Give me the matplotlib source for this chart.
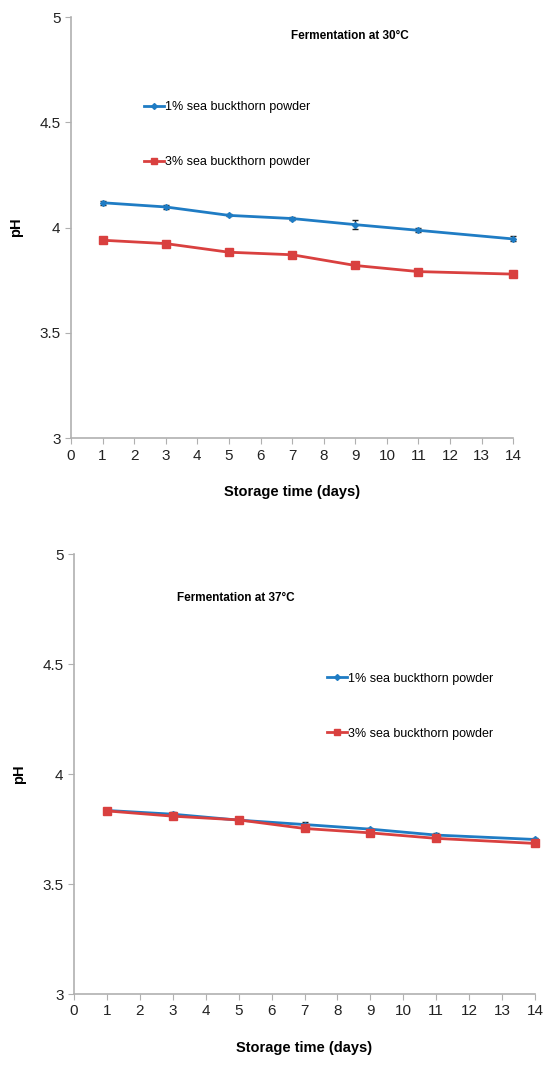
import matplotlib.pyplot as plt
from matplotlib.lines import Line2D
import numpy as np

plt.rcParams['font.family'] = ['Liberation Sans', 'DejaVu Sans']

days = [1, 3, 5, 7, 9, 11, 14]

# pH during storage, fermentation at 30 °C
ph30_1 = [4.118, 4.098, 4.058, 4.043, 4.014, 3.987, 3.946]
ph30_3 = [3.940, 3.924, 3.883, 3.871, 3.820, 3.791, 3.779]
err30_1 = [0.010, 0.008, 0.005, 0.005, 0.020, 0.010, 0.012]
err30_3 = [0.008, 0.006, 0.008, 0.008, 0.006, 0.005, 0.012]

# pH during storage, fermentation at 37 °C
ph37_1 = [3.835, 3.818, 3.791, 3.771, 3.750, 3.723, 3.703]
ph37_3 = [3.833, 3.809, 3.792, 3.753, 3.733, 3.708, 3.685]
err37_1 = [0.005, 0.010, 0.006, 0.010, 0.006, 0.008, 0.008]
err37_3 = [0.005, 0.008, 0.006, 0.008, 0.008, 0.006, 0.010]

labels = ["1% sea buckthorn powder", "3% sea buckthorn powder"]
blue = "#1f7cc4"
red = "#d9403f"
spine_col = "#b0b0b0"

fig = plt.figure(figsize=(5.46, 10.66), dpi=100)
ax1 = fig.add_axes([0.130, 0.589, 0.810, 0.395])
ax2 = fig.add_axes([0.1355, 0.0675, 0.8445, 0.4125])

handles = [
    Line2D([], [], color=blue, marker='D', markersize=3, lw=2),
    Line2D([], [], color=red, marker='s', markersize=5, lw=2),
]


def draw_panel(ax, y1, e1, y3, e3, title, title_xy, leg_anchor):
    ax.errorbar(days, y1, yerr=e1, color=blue, marker='D', markersize=3,
                lw=2, ecolor='#222222', elinewidth=1, capsize=2, clip_on=False)
    ax.errorbar(days, y3, yerr=e3, color=red, marker='s', markersize=6,
                lw=2, ecolor='#222222', elinewidth=1, capsize=2, clip_on=False)
    ax.set_xlim(0, 14)
    ax.set_ylim(3, 5)
    ax.set_xticks(np.arange(0, 15, 1))
    ax.set_yticks([3, 3.5, 4, 4.5, 5])
    ax.set_yticklabels(["3", "3.5", "4", "4.5", "5"])
    for s in ["top", "right"]:
        ax.spines[s].set_visible(False)
    for s in ["left", "bottom"]:
        ax.spines[s].set_color(spine_col)
        ax.spines[s].set_linewidth(1.2)
    ax.tick_params(direction='out', length=4, color=spine_col,
                   labelsize=11, labelcolor='#222222')
    ax.set_xlabel("Storage time (days)", fontsize=10.5, fontweight='bold',
                  labelpad=16)
    ax.set_ylabel("pH", fontsize=10.5, fontweight='bold', labelpad=12)
    ax.text(*title_xy, title, transform=ax.transAxes, fontsize=8.5,
            fontweight='bold', ha='center', va='center')
    ax.legend(handles, labels, loc='upper left', bbox_to_anchor=leg_anchor,
              frameon=False, fontsize=9, handlelength=1.6, handletextpad=0.1,
              labelspacing=3.45, borderpad=0)


draw_panel(ax1, ph30_1, err30_1, ph30_3, err30_3, "Fermentation at 30\u00b0C",
           (0.63, 0.955), (0.15, 0.815))
draw_panel(ax2, ph37_1, err37_1, ph37_3, err37_3, "Fermentation at 37\u00b0C",
           (0.35, 0.9), (0.535, 0.745))

fig.savefig("out.png", dpi=100)
